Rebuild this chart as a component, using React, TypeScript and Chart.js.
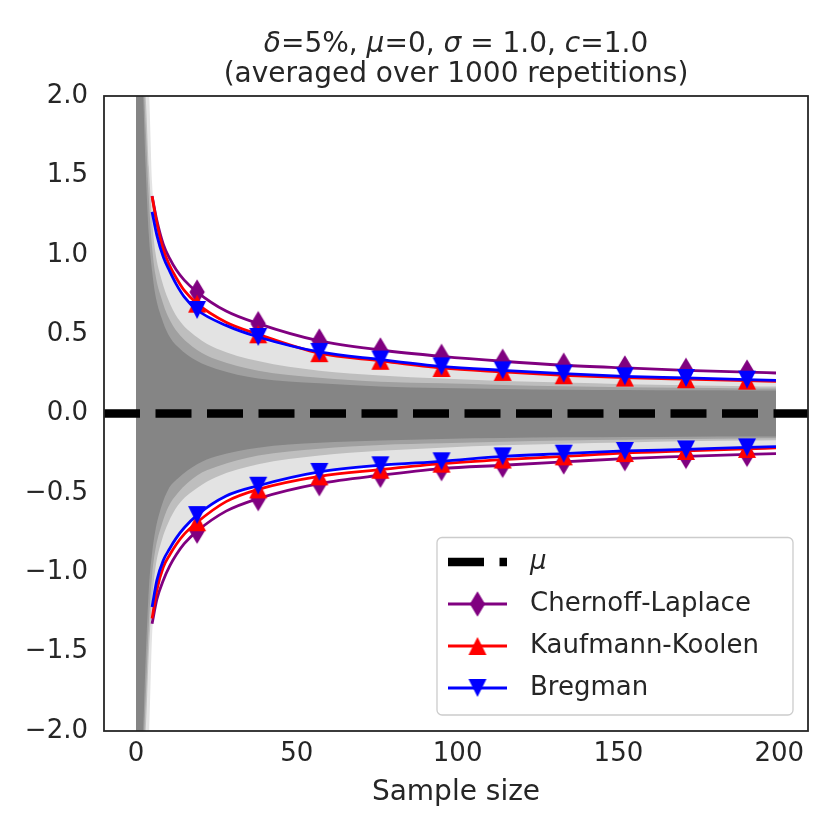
import { useEffect, useRef } from "react";
import { Chart, registerables, type Plugin } from "chart.js";

Chart.register(...registerables);

const FONT = "'DejaVu Sans', Verdana, sans-serif";
const INK = "#262626";

/* sample sizes where the bound curves were read, markers every 19 samples */
const BOUND_X = [5, 6.5, 8.5, 10.5, 12.5, 15, 19, 28, 38, 57, 76, 95, 114, 133, 152, 171, 190, 199];
const MARKER_X = [19, 38, 57, 76, 95, 114, 133, 152, 171, 190];

const CL_UP = [1.37, 1.215, 1.065, 0.975, 0.905, 0.84, 0.765, 0.645, 0.566, 0.457, 0.4, 0.36, 0.329, 0.304, 0.287, 0.272, 0.261, 0.255];
const CL_LO = [-1.324, -1.17, -1.05, -0.96, -0.89, -0.82, -0.741, -0.615, -0.536, -0.442, -0.389, -0.347, -0.326, -0.305, -0.284, -0.27, -0.257, -0.253];
const KK_UP = [1.368, 1.196, 1.03, 0.93, 0.855, 0.775, 0.692, 0.575, 0.499, 0.38, 0.332, 0.287, 0.262, 0.241, 0.226, 0.216, 0.207, 0.203];
const KK_LO = [-1.292, -1.11, -0.967, -0.89, -0.825, -0.76, -0.685, -0.555, -0.478, -0.396, -0.354, -0.316, -0.29, -0.27, -0.249, -0.236, -0.223, -0.217];
const BR_UP = [1.27, 1.122, 0.985, 0.895, 0.815, 0.735, 0.652, 0.555, 0.482, 0.388, 0.34, 0.297, 0.272, 0.251, 0.234, 0.224, 0.213, 0.209];
const BR_LO = [-1.219, -1.05, -0.925, -0.85, -0.785, -0.72, -0.64, -0.52, -0.455, -0.368, -0.326, -0.301, -0.27, -0.253, -0.236, -0.226, -0.213, -0.209];

/* envelope of the 1000 grey sample paths, from the pale fringe to the dense core */
const BAND_X = [0, 1, 2, 3, 4, 5, 6, 8, 10, 13, 19, 25, 38, 57, 76, 95, 114, 133, 152, 171, 190, 199];
const OUTER_UP = [2.2, 2.2, 2.2, 2.2, 2.05, 1.45, 1.25, 1.03, 0.92, 0.8, 0.66, 0.58, 0.47, 0.385, 0.335, 0.3, 0.27, 0.25, 0.235, 0.222, 0.212, 0.208];
const OUTER_LO = [-2.2, -2.2, -2.2, -2.2, -2.05, -1.4, -1.18, -0.97, -0.86, -0.76, -0.63, -0.56, -0.45, -0.37, -0.325, -0.295, -0.265, -0.245, -0.232, -0.22, -0.21, -0.205];
const MID_UP = [2.2, 2.2, 2.2, 2.0, 1.55, 1.22, 1.02, 0.84, 0.72, 0.6, 0.48, 0.41, 0.33, 0.27, 0.24, 0.22, 0.205, 0.195, 0.185, 0.178, 0.172, 0.17];
const MID_LO = [-2.2, -2.2, -2.2, -2.0, -1.5, -1.18, -0.98, -0.8, -0.69, -0.58, -0.47, -0.4, -0.32, -0.265, -0.235, -0.215, -0.2, -0.19, -0.182, -0.175, -0.17, -0.168];
const INNER_UP = [2.2, 2.2, 2.2, 1.8, 1.35, 1.05, 0.88, 0.72, 0.61, 0.51, 0.4, 0.34, 0.27, 0.225, 0.2, 0.19, 0.18, 0.172, 0.166, 0.162, 0.158, 0.157];
const INNER_LO = [-2.2, -2.2, -2.2, -1.8, -1.32, -1.02, -0.86, -0.7, -0.59, -0.5, -0.39, -0.335, -0.265, -0.222, -0.198, -0.188, -0.178, -0.17, -0.165, -0.161, -0.157, -0.156];
const CORE_UP = [2.2, 2.2, 2.1, 1.55, 1.12, 0.9, 0.75, 0.6, 0.5, 0.42, 0.33, 0.28, 0.22, 0.19, 0.17, 0.16, 0.155, 0.15, 0.148, 0.146, 0.145, 0.145];
const CORE_LO = [-2.2, -2.2, -2.1, -1.55, -1.1, -0.88, -0.74, -0.58, -0.48, -0.41, -0.32, -0.27, -0.215, -0.185, -0.17, -0.16, -0.155, -0.15, -0.148, -0.146, -0.145, -0.145];

const MU_X = [-9.95, 208.95];
const MU_Y = [0, 0];

const X_TICKS = [0, 50, 100, 150, 200];
const Y_TICKS = [-2, -1.5, -1, -0.5, 0, 0.5, 1, 1.5, 2];

const TITLE_PARTS: [string, boolean][] = [
  ["δ", true], ["=5%, ", false], ["μ", true], ["=0, ", false],
  ["σ", true], [" = 1.0, ", false], ["c", true], ["=1.0", false],
];
const TITLE_LINE2 = "(averaged over 1000 repetitions)";

const PURPLE = "#800080";
const RED = "#ff0000";
const BLUE = "#0000ff";
const DASH = [36, 15.5];

type MarkerKind = "diamond" | "up" | "down";

function makeMarker(kind: MarkerKind, color: string) {
  const c = document.createElement("canvas");
  const w = kind === "diamond" ? 15.3 : 18;
  const h = kind === "diamond" ? 25.5 : 18;
  c.width = kind === "diamond" ? 18 : 20;
  c.height = kind === "diamond" ? 28 : 20;
  const g = c.getContext("2d")!;
  const cx = c.width / 2;
  const cy = c.height / 2;
  g.fillStyle = color;
  g.beginPath();
  if (kind === "diamond") {
    g.moveTo(cx, cy - h / 2);
    g.lineTo(cx + w / 2, cy);
    g.lineTo(cx, cy + h / 2);
    g.lineTo(cx - w / 2, cy);
  } else if (kind === "up") {
    g.moveTo(cx, cy - h / 2);
    g.lineTo(cx + w / 2, cy + h / 2);
    g.lineTo(cx - w / 2, cy + h / 2);
  } else {
    g.moveTo(cx, cy + h / 2);
    g.lineTo(cx + w / 2, cy - h / 2);
    g.lineTo(cx - w / 2, cy - h / 2);
  }
  g.closePath();
  g.fill();
  return c;
}

const pts = (xs: number[], ys: number[]) => xs.map((x, i) => ({ x, y: ys[i] }));

const overlay: Plugin = {
  id: "overlay",
  afterDraw(chart) {
    const { ctx, chartArea: a } = chart;
    ctx.save();

    // frame
    ctx.strokeStyle = INK;
    ctx.lineWidth = 1.8;
    ctx.strokeRect(a.left, a.top, a.right - a.left, a.bottom - a.top);

    // title, with the math symbols in italics
    const cx = (a.left + a.right) / 2;
    ctx.fillStyle = INK;
    ctx.textBaseline = "middle";
    ctx.textAlign = "left";
    const up = `28px ${FONT}`;
    const it = `italic 28px ${FONT}`;
    let total = 0;
    for (const [t, i] of TITLE_PARTS) {
      ctx.font = i ? it : up;
      total += ctx.measureText(t).width;
    }
    let x = cx - total / 2;
    for (const [t, i] of TITLE_PARTS) {
      ctx.font = i ? it : up;
      ctx.fillText(t, x, 45);
      x += ctx.measureText(t).width;
    }
    ctx.font = up;
    ctx.textAlign = "center";
    ctx.fillText(TITLE_LINE2, cx, 75);

    // legend
    const box = { x: 437, y: 537.5, w: 356, h: 177.5 };
    ctx.globalAlpha = 0.8;
    ctx.fillStyle = "#ffffff";
    ctx.beginPath();
    ctx.roundRect(box.x, box.y, box.w, box.h, 5);
    ctx.fill();
    ctx.globalAlpha = 1;
    ctx.strokeStyle = "#cccccc";
    ctx.lineWidth = 1.3;
    ctx.stroke();

    const rows = [562, 604, 646, 688];
    const x0 = 448;
    const x1 = 507;
    const items = (chart.data.datasets as any[]).filter((d) => d.legendRow !== undefined);
    for (const d of items) {
      const y = rows[d.legendRow];
      ctx.strokeStyle = d.borderColor;
      ctx.lineWidth = d.borderWidth;
      ctx.setLineDash(d.borderDash || []);
      ctx.lineCap = "butt";
      ctx.beginPath();
      ctx.moveTo(x0, y);
      ctx.lineTo(x1, y);
      ctx.stroke();
      ctx.setLineDash([]);
      if (d.marker) {
        const m = d.marker as HTMLCanvasElement;
        ctx.drawImage(m, (x0 + x1) / 2 - m.width / 2, y - m.height / 2);
      }
      ctx.fillStyle = INK;
      ctx.textAlign = "left";
      ctx.textBaseline = "middle";
      ctx.font = d.legendItalic ? `italic 26px ${FONT}` : `26px ${FONT}`;
      ctx.fillText(d.label, 530, y);
    }
    ctx.restore();
  },
};

export default function App() {
  const canvasRef = useRef<HTMLCanvasElement>(null);

  useEffect(() => {
    if (!canvasRef.current) return;
    document.body.style.margin = "0";

    const diamond = makeMarker("diamond", PURPLE);
    const triUp = makeMarker("up", RED);
    const triDown = makeMarker("down", BLUE);
    const markerRadius = (ctx: any) =>
      MARKER_X.includes(BOUND_X[ctx.dataIndex]) ? 9 : 0;

    const band = (ys: number[], fillTarget?: number, color?: string) => ({
      data: pts(BAND_X, ys),
      borderColor: "rgba(0,0,0,0)",
      borderWidth: 1,
      pointRadius: 0,
      cubicInterpolationMode: "monotone",
      fill: fillTarget === undefined ? false : { target: fillTarget },
      backgroundColor: color || "rgba(0,0,0,0)",
    });

    const bound = (ys: number[], color: string, marker: HTMLCanvasElement, label: string, row?: number) => ({
      label,
      legendRow: row,
      marker,
      data: pts(BOUND_X, ys),
      borderColor: color,
      borderWidth: 2.8,
      pointRadius: markerRadius,
      pointStyle: marker,
      cubicInterpolationMode: "monotone",
      fill: false,
    });

    const datasets: any[] = [
      band(OUTER_UP),
      band(OUTER_LO, 0, "#e3e3e3"),
      band(MID_UP),
      band(MID_LO, 2, "#bebebe"),
      band(INNER_UP),
      band(INNER_LO, 4, "#a0a0a0"),
      band(CORE_UP),
      band(CORE_LO, 6, "#858585"),
      {
        label: "μ",
        legendRow: 0,
        legendItalic: true,
        data: pts(MU_X, MU_Y),
        borderColor: "#000000",
        borderWidth: 8.5,
        borderDash: DASH,
        borderCapStyle: "butt",
        pointRadius: 0,
        fill: false,
      },
      bound(CL_UP, PURPLE, diamond, "Chernoff-Laplace", 1),
      bound(CL_LO, PURPLE, diamond, "Chernoff-Laplace"),
      bound(KK_UP, RED, triUp, "Kaufmann-Koolen", 2),
      bound(KK_LO, RED, triUp, "Kaufmann-Koolen"),
      bound(BR_UP, BLUE, triDown, "Bregman", 3),
      bound(BR_LO, BLUE, triDown, "Bregman"),
    ];
    datasets.forEach((d, i) => {
      d.order = 50 - i;
      d.clip = 0;
    });

    const chart = new Chart(canvasRef.current, {
      type: "line",
      data: { datasets },
      options: {
        responsive: false,
        animation: false,
        devicePixelRatio: 1,
        layout: { padding: { top: 96, right: 22, left: 0, bottom: 0 } },
        plugins: {
          legend: { display: false },
          tooltip: { enabled: false },
          title: { display: false },
        },
        scales: {
          x: {
            type: "linear",
            min: -9.95,
            max: 208.95,
            afterBuildTicks: (s: any) => {
              s.ticks = X_TICKS.map((value) => ({ value }));
            },
            afterFit: (s: any) => {
              s.height = 99;
            },
            grid: { display: false, drawTicks: false },
            border: { display: false },
            ticks: {
              padding: 8,
              color: INK,
              font: { family: FONT, size: 26 },
              maxRotation: 0,
              autoSkip: false,
              callback: (v: any) => String(v),
            },
            title: {
              display: true,
              text: "Sample size",
              color: INK,
              font: { family: FONT, size: 28 },
              padding: { top: 0, bottom: 20 },
            },
          },
          y: {
            type: "linear",
            min: -2,
            max: 2,
            afterBuildTicks: (s: any) => {
              s.ticks = Y_TICKS.map((value) => ({ value }));
            },
            afterFit: (s: any) => {
              s.width = 104;
            },
            grid: { display: false, drawTicks: false },
            border: { display: false },
            ticks: {
              padding: 16,
              color: INK,
              font: { family: FONT, size: 26 },
              callback: (v: any) => Number(v).toFixed(1).replace("-", "\u2212"),
            },
          },
        },
      } as any,
      plugins: [overlay],
    });

    return () => {
      chart.destroy();
    };
  }, []);

  return (
    <div style={{ width: 830, height: 830 }}>
      <canvas ref={canvasRef} width={830} height={830} />
    </div>
  );
}
